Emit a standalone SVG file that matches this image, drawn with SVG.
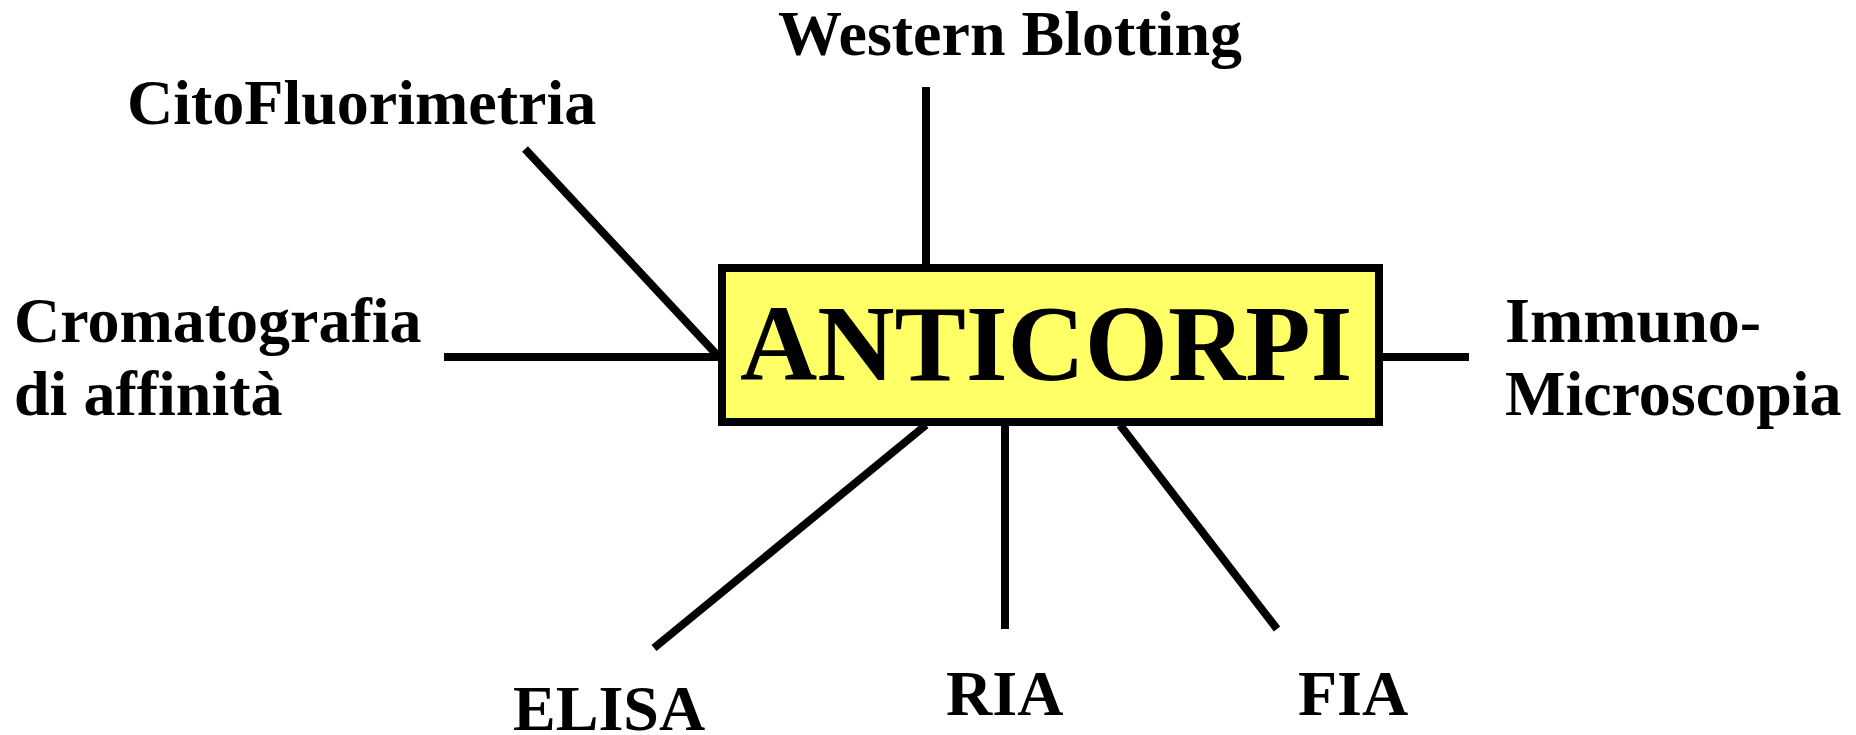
<svg xmlns="http://www.w3.org/2000/svg" width="1856" height="735" viewBox="0 0 1856 735">
  <style>
    .lbl { font-family: "Liberation Serif", "Times New Roman", serif; font-weight: bold; font-size: 64px; fill: #000; }
    .title { font-family: "Liberation Serif", "Times New Roman", serif; font-weight: bold; font-size: 107px; fill: #000; }
    .edge { stroke: #000; stroke-width: 8; fill: none; stroke-linecap: butt; }
  </style>
  <rect x="0" y="0" width="1856" height="735" fill="#fff"/>

  <!-- spokes radiating from the central box -->
  <g id="connectors">
    <line class="edge" x1="926" y1="87" x2="926" y2="266"/>
    <line class="edge" x1="525" y1="149" x2="718" y2="356"/>
    <line class="edge" x1="444" y1="357" x2="720" y2="357"/>
    <line class="edge" x1="1381" y1="357" x2="1469" y2="357"/>
    <line class="edge" x1="926" y1="425" x2="654" y2="648"/>
    <line class="edge" x1="1005" y1="425" x2="1005" y2="629"/>
    <line class="edge" x1="1120" y1="425" x2="1277" y2="629"/>
  </g>

  <g id="anticorpi">
    <rect x="722" y="268" width="657" height="154" fill="#ffff66" stroke="#000" stroke-width="8"/>
    <text class="title" x="740" y="380">ANTICORPI</text>
  </g>

  <g id="western-blotting">
    <text class="lbl" x="778" y="55">Western Blotting</text>
  </g>

  <g id="citofluorimetria">
    <text class="lbl" x="127" y="124">CitoFluorimetria</text>
  </g>

  <g id="cromatografia">
    <text class="lbl" x="14" y="342">Cromatografia</text>
    <text class="lbl" x="14" y="415">di affinità</text>
  </g>

  <g id="immuno-microscopia">
    <text class="lbl" x="1505" y="342">Immuno-</text>
    <text class="lbl" x="1505" y="415">Microscopia</text>
  </g>

  <g id="elisa">
    <text class="lbl" x="513" y="730">ELISA</text>
  </g>

  <g id="ria">
    <text class="lbl" x="946" y="715">RIA</text>
  </g>

  <g id="fia">
    <text class="lbl" x="1298" y="715">FIA</text>
  </g>
</svg>
